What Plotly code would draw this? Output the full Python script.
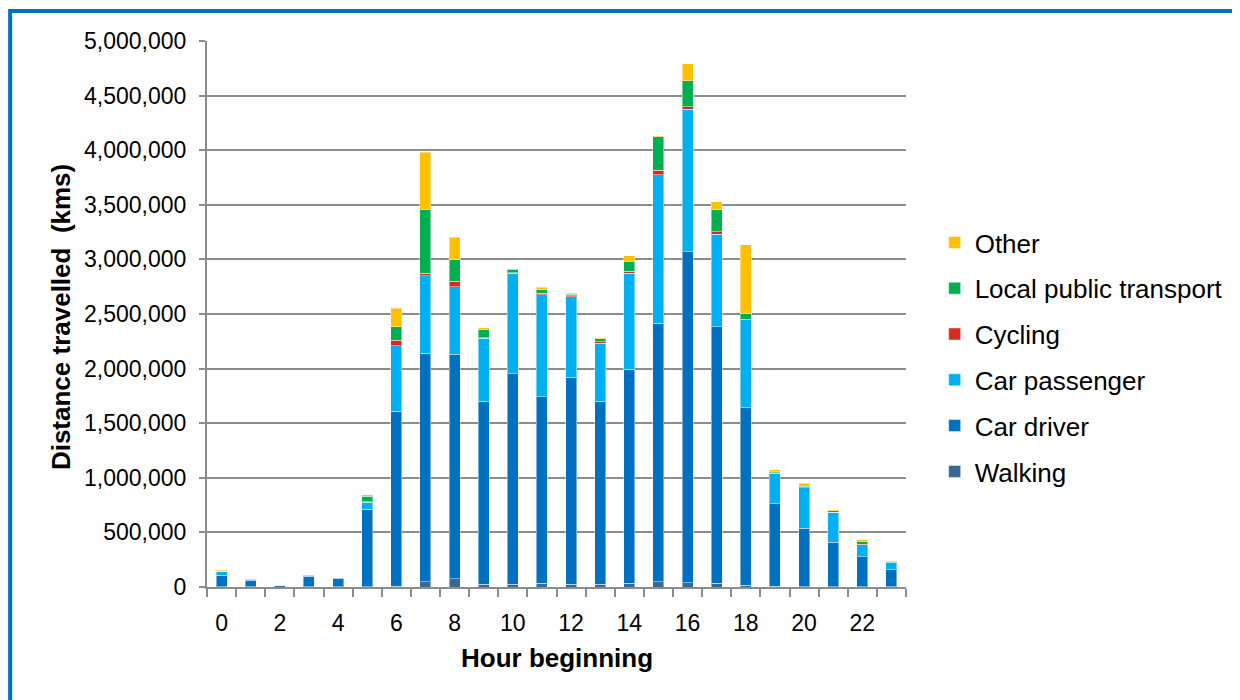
import plotly.graph_objects as go

hours = list(range(24))
tick_hours = [0, 2, 4, 6, 8, 10, 12, 14, 16, 18, 20, 22]
y_ticks = [0, 500000, 1000000, 1500000, 2000000, 2500000, 3000000, 3500000, 4000000, 4500000, 5000000]

walking = [3000, 2000, 10000, 3000, 2000, 3000, 6000, 49000, 76000, 24000, 24000, 33000,
           24000, 24000, 33000, 49000, 40000, 33000, 15000, 5000, 3000, 1000, 2000, 2000]
car_driver = [104000, 62000, 6000, 97000, 80000, 707000, 1602000, 2093000, 2057000, 1679000, 1931000, 1709000,
              1895000, 1675000, 1963000, 2367000, 3031000, 2352000, 1627000, 756000, 535000, 409000, 274000, 155000]
car_passenger = [36000, 4000, 0, 4000, 3000, 67000, 601000, 710000, 615000, 576000, 919000, 936000,
                 741000, 534000, 878000, 1357000, 1305000, 845000, 806000, 283000, 369000, 274000, 113000, 67000]
cycling = [2000, 0, 0, 0, 0, 3000, 52000, 22000, 52000, 5000, 5000, 12000,
           8000, 12000, 18000, 45000, 21000, 21000, 5000, 2000, 2000, 1000, 1000, 0]
local_public_transport = [4000, 1000, 2000, 2000, 2000, 52000, 124000, 585000, 195000, 71000, 30000, 33000,
                          12000, 27000, 91000, 305000, 238000, 202000, 55000, 15000, 15000, 15000, 27000, 3000]
other = [4000, 0, 2000, 5000, 0, 12000, 168000, 524000, 208000, 18000, 5000, 20000,
         10000, 6000, 49000, 9000, 159000, 76000, 625000, 15000, 24000, 9000, 15000, 9000]

series = [
    ("Walking", walking, "#346A93"),
    ("Car driver", car_driver, "#0070C0"),
    ("Car passenger", car_passenger, "#00B0F0"),
    ("Cycling", cycling, "#D62A22"),
    ("Local public transport", local_public_transport, "#00B050"),
    ("Other", other, "#FFC000"),
]

FONT = "Liberation Sans, Arial, sans-serif"

fig = go.Figure()
for i, (name, vals, color) in enumerate(series):
    fig.add_trace(go.Bar(
        x=hours, y=vals, name=name,
        marker=dict(color=color, line=dict(color="rgba(255,255,255,0.45)", width=1)),
        width=0.38,
        legendgroup=name,
        legendrank=len(series) - i,  # Other on top, Walking at the bottom
    ))

# page has an 8px body margin, so the figure is 1232x692
# plot area in figure pixels: x 199..902, y 33..579.5
fig.update_layout(
    width=1232, height=692,
    barmode="stack",
    paper_bgcolor="white", plot_bgcolor="white",
    margin=dict(l=199, r=330, t=33, b=112.5, pad=0),
    font=dict(family=FONT, size=23, color="black"),
    showlegend=True,
    legend=dict(
        x=1.041, xanchor="left", y=0.674, yanchor="top",
        traceorder="grouped", tracegroupgap=9,
        font=dict(size=26), bgcolor="rgba(0,0,0,0)",
    ),
)

fig.update_xaxes(
    range=[-0.5, 23.5],
    tickvals=tick_hours, ticktext=[str(h) for h in tick_hours],
    ticks="", ticklabelstandoff=14,
    minor=dict(tick0=0.5, dtick=1, ticks="outside", ticklen=8, tickcolor="#8C8C8C", tickwidth=2),
    showline=True, linecolor="#8C8C8C", linewidth=2,
    showgrid=False,
)
fig.update_yaxes(
    range=[0, 5000000],
    tickvals=y_ticks, tickformat=",d",
    ticks="outside", ticklen=6, tickcolor="#8C8C8C", tickwidth=2,
    ticklabelstandoff=8,
    showline=True, linecolor="#8C8C8C", linewidth=2,
    showgrid=True, gridcolor="#8C8C8C", gridwidth=2,
    zeroline=False,
)

# axis titles
fig.add_annotation(text="<b>Hour beginning</b>", xref="paper", yref="paper",
                   x=0.5, y=(579.5 - 651) / 546.5, xanchor="center", yanchor="middle",
                   showarrow=False, font=dict(size=26))
fig.add_annotation(text="<b>Distance travelled  (kms)</b>", xref="paper", yref="paper",
                   x=(52 - 199) / 703, y=0.494, xanchor="center", yanchor="middle",
                   textangle=-90, showarrow=False, font=dict(size=26))

# blue frame around the chart (runs off the right and bottom edges)
fig.add_shape(
    type="rect", xref="paper", yref="paper",
    x0=(1 - 199) / 703, x1=(1260 - 199) / 703,
    y0=(579.5 - 720) / 546.5, y1=(579.5 - 3) / 546.5,
    line=dict(color="#0070C0", width=4), fillcolor="rgba(0,0,0,0)",
    layer="above",
)

fig.write_html("out.html")
